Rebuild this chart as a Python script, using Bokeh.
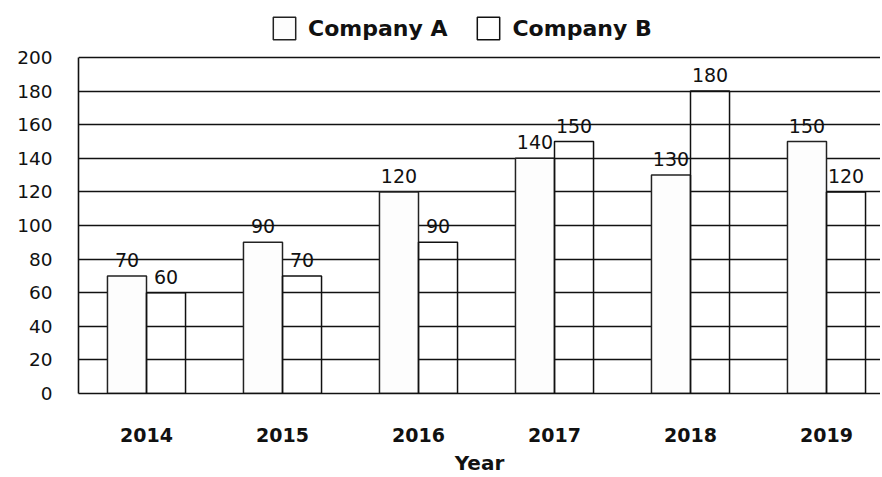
from bokeh.plotting import figure
from bokeh.models import (ColumnDataSource, Range1d, FixedTicker, LabelSet,
                          Legend, LegendItem)
from bokeh.transform import dodge
from bokeh.embed import file_html
from bokeh.resources import INLINE
from bokeh.core.properties import value

# ---- data ----
years = ["2014", "2015", "2016", "2017", "2018", "2019"]
company_a = [70, 90, 120, 140, 130, 150]
company_b = [60, 70, 90, 150, 180, 120]
y_ticks = [0, 20, 40, 60, 80, 100, 120, 140, 160, 180, 200]

pos = [i + 0.5 for i in range(len(years))]
src = ColumnDataSource(dict(
    x=pos, year=years, a=company_a, b=company_b,
    a_txt=[str(v) for v in company_a], b_txt=[str(v) for v in company_b]))

BAR_W = 0.287
FONT = "DejaVu Sans"
INK = "#111111"

W, H = 880, 477
TOP, BOTTOM_Y = 10, 393          # frame top / frame bottom (pixels)
PX_PER_UNIT = 336 / 200          # 0..200 spans 336 px
y_end = (BOTTOM_Y - TOP) / PX_PER_UNIT   # headroom above 200 holds the legend

p = figure(width=W, height=H, output_backend="svg", toolbar_location=None,
           x_range=Range1d(0, (W - 78) / 136), y_range=Range1d(0, y_end),
           min_border_left=78, min_border_right=0, min_border_top=TOP,
           min_border_bottom=H - BOTTOM_Y)
p.outline_line_color = None
p.background_fill_color = "white"

p.xgrid.visible = False
p.ygrid.ticker = FixedTicker(ticks=y_ticks)
p.ygrid.grid_line_color = INK
p.ygrid.grid_line_width = 1.4

# y axis
p.yaxis.ticker = FixedTicker(ticks=y_ticks)
p.yaxis.bounds = (y_ticks[0], y_ticks[-1])
p.yaxis.major_tick_out = 0
p.yaxis.major_tick_in = 0
p.yaxis.minor_tick_out = 0
p.yaxis.minor_tick_in = 0
p.yaxis.major_label_standoff = 26
p.yaxis.major_label_text_font = FONT
p.yaxis.major_label_text_font_size = "18.5px"
p.yaxis.major_label_text_color = INK
p.yaxis.axis_line_color = INK
p.yaxis.axis_line_width = 1.6

# x axis
p.xaxis.ticker = FixedTicker(ticks=pos)
p.xaxis.major_label_overrides = {x: y for x, y in zip(pos, years)}
p.xaxis.major_tick_out = 0
p.xaxis.major_tick_in = 0
p.xaxis.minor_tick_out = 0
p.xaxis.minor_tick_in = 0
p.xaxis.major_label_standoff = 34
p.xaxis.major_label_text_font = FONT
p.xaxis.major_label_text_font_style = "bold"
p.xaxis.major_label_text_font_size = "19px"
p.xaxis.major_label_text_color = INK
p.xaxis.axis_line_color = INK
p.xaxis.axis_line_width = 1.6
p.xaxis.axis_label = "Year"
p.xaxis.axis_label_standoff = 6
p.xaxis.axis_label_text_font = FONT
p.xaxis.axis_label_text_font_style = "bold"
p.xaxis.axis_label_text_font_size = "20px"
p.xaxis.axis_label_text_color = INK

# bars (A filled white, B outline only so the grid shows through)
ra = p.vbar(x=dodge("x", -BAR_W / 2), top="a", width=BAR_W, source=src,
            fill_color="#fdfdfd", line_color="#222222", line_width=1.5)
rb = p.vbar(x=dodge("x", BAR_W / 2), top="b", width=BAR_W, source=src,
            fill_color=None, fill_alpha=0, line_color="#111111", line_width=1.5)

# data labels
for col, txt, off in (("a", "a_txt", -BAR_W / 2), ("b", "b_txt", BAR_W / 2)):
    p.add_layout(LabelSet(x=dodge("x", off), y=col, text=txt, source=src,
                          text_align="center", text_baseline="bottom",
                          y_offset=9, text_font=value(FONT),
                          text_font_size=value("19px"), text_color=INK))

legend = Legend(items=[LegendItem(label="Company A", renderers=[ra]),
                       LegendItem(label="Company B", renderers=[rb])],
                orientation="horizontal", location=(192, 351),
                glyph_width=28, glyph_height=28, label_standoff=10, spacing=27,
                padding=0, margin=0, border_line_color=None,
                background_fill_alpha=0,
                label_text_font=FONT, label_text_font_style="bold",
                label_text_font_size="22px", label_text_color=INK)
p.add_layout(legend)

open("out.html", "w").write(file_html(p, INLINE))
